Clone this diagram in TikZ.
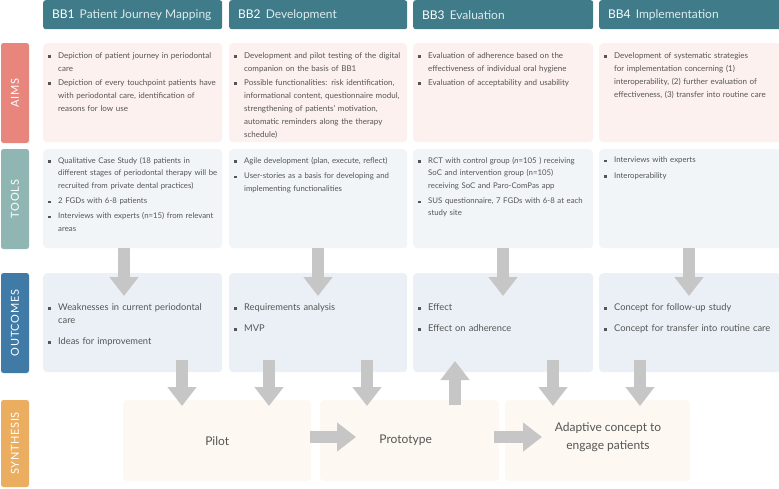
\documentclass[tikz,border=0pt]{standalone}
\usepackage{fontspec}
\setmainfont{Lato}
\usetikzlibrary{arrows.meta}
\definecolor{hdr}{HTML}{3F7B89}
\definecolor{hdrtxt}{HTML}{DCEBEE}
\definecolor{aimlbl}{HTML}{E8867D}
\definecolor{aimbg}{HTML}{FDF1EF}
\definecolor{toollbl}{HTML}{8FB6B2}
\definecolor{toolbg}{HTML}{F1F5F7}
\definecolor{outlbl}{HTML}{3F7BA6}
\definecolor{outbg}{HTML}{EAF0F6}
\definecolor{synlbl}{HTML}{EBAE60}
\definecolor{synbg}{HTML}{FDF8F2}
\definecolor{arw}{HTML}{C6C6C6}
\definecolor{txt}{HTML}{555555}
\newcommand\bmark{\makebox[10pt][l]{\raisebox{0.5pt}{\rule{2.4pt}{2.4pt}}}}
\newcommand\bfirst{\noindent\hangindent=10pt\hangafter=1\bmark}
\newcommand\bitem{\par\noindent\hangindent=10pt\hangafter=1\bmark}
\tikzset{
  hdrbox/.style={fill=hdr, rounded corners=2.5pt, anchor=north west, minimum height=29pt, inner sep=0pt},
  hdrlabel/.style={anchor=west, inner sep=0pt, text=hdrtxt, font=\fontsize{12}{14}\selectfont},
  cell/.style={rounded corners=4pt, anchor=north west, minimum height=99pt, inner sep=0pt},
  aimcell/.style={cell, fill=aimbg},
  toolcell/.style={cell, fill=toolbg},
  outcell/.style={cell, fill=outbg},
  syncell/.style={rounded corners=4pt, anchor=north west, minimum height=81pt, inner sep=0pt, fill=synbg, text=txt, font=\fontsize{12}{18}\selectfont},
  rowlbl/.style={rotate=90, rounded corners=2.5pt, minimum height=28pt, inner sep=0pt, text=white, font=\fontsize{11}{13}\selectfont\addfontfeature{LetterSpace=6}},
  smalltxt/.style={anchor=north west, inner sep=0pt, text=txt, text width=190pt, font=\fontsize{8}{13}\selectfont},
  aimtxt/.style={smalltxt, execute at begin node={\raggedright\setlength{\parskip}{1pt}}},
  tooltxt/.style={smalltxt, font=\fontsize{7.8}{12.4}\selectfont, execute at begin node={\raggedright\setlength{\parskip}{3pt}}},
  outtxt/.style={anchor=north west, inner sep=0pt, text=txt, text width=190pt, font=\fontsize{9.3}{13}\selectfont, execute at begin node={\raggedright\setlength{\parskip}{8pt}}},
  bigarrow/.style={draw=arw, line width=12pt, -{Triangle[length=19pt 0 0, width=28pt 0 0]}}
}
\begin{document}
\begin{tikzpicture}[x=1pt,y=-1pt]
\useasboundingbox[fill=white] (0,0) rectangle (779,488);
% headers
\node[hdrbox, minimum width=179pt] (h1) at (43,0) {};
\node[hdrbox, minimum width=178pt] (h2) at (229,0) {};
\node[hdrbox, minimum width=180pt] (h3) at (413,0) {};
\node[hdrbox, minimum width=182pt] (h4) at (599,0) {};
\node[hdrlabel] (h1t) at ([xshift=9pt]h1.west) {\textcolor{white}{BB1}\, Patient Journey Mapping};
\node[hdrlabel] (h2t) at ([xshift=9pt]h2.west) {\textcolor{white}{BB2}\, Development};
\node[hdrlabel] (h3t) at ([xshift=9pt]h3.west) {\textcolor{white}{BB3}\, Evaluation};
\node[hdrlabel] (h4t) at ([xshift=9pt]h4.west) {\textcolor{white}{BB4}\, Implementation};
% row labels
\node[rowlbl, fill=aimlbl, minimum width=100pt] (laims) at (15,93) {AIMS};
\node[rowlbl, fill=toollbl, minimum width=100pt] (ltools) at (15,199) {TOOLS};
\node[rowlbl, fill=outlbl, minimum width=100pt] (louts) at (15,323) {OUTCOMES};
\node[rowlbl, fill=synlbl, minimum width=87pt] (lsyn) at (15,443.5) {SYNTHESIS};
% aims
\node[aimcell, minimum width=179pt] (a1) at (43,43) {};
\node[aimcell, minimum width=178pt] (a2) at (229,43) {};
\node[aimcell, minimum width=180pt] (a3) at (413,43) {};
\node[aimcell, minimum width=182pt] (a4) at (599,43) {};
\node[aimtxt] (a1t) at ([xshift=5pt,yshift=-9pt]a1.north west) {\bfirst Depiction of patient journey in periodontal\newline care\bitem Depiction of every touchpoint patients have\newline with periodontal care, identification of\newline reasons for low use\par};
\node[aimtxt] (a2t) at ([xshift=5pt,yshift=-9pt]a2.north west) {\bfirst Development and pilot testing of the digital\newline companion on the basis of BB1\bitem Possible functionalities: risk identification,\newline informational content, questionnaire modul,\newline strengthening of patients' motivation,\newline automatic reminders along the therapy\newline schedule)\par};
\node[aimtxt] (a3t) at ([xshift=5pt,yshift=-9pt]a3.north west) {\bfirst Evaluation of adherence based on the\newline effectiveness of individual oral hygiene\bitem Evaluation of acceptability and usability\par};
\node[aimtxt] (a4t) at ([xshift=5pt,yshift=-9pt]a4.north west) {\bfirst Development of systematic strategies\newline for implementation concerning (1)\newline interoperability, (2) further evaluation of\newline effectiveness, (3) transfer into routine care\par};
% tools
\node[toolcell, minimum width=179pt] (t1) at (43,149) {};
\node[toolcell, minimum width=178pt] (t2) at (229,149) {};
\node[toolcell, minimum width=180pt] (t3) at (413,149) {};
\node[toolcell, minimum width=182pt] (t4) at (599,149) {};
\node[tooltxt] (t1t) at ([xshift=5pt,yshift=-8pt]t1.north west) {\bfirst Qualitative Case Study (18 patients in\newline different stages of periodontal therapy will be\newline recruited from private dental practices)\bitem 2 FGDs with 6-8 patients\bitem Interviews with experts (n=15) from relevant\newline areas\par};
\node[tooltxt] (t2t) at ([xshift=5pt,yshift=-8pt]t2.north west) {\bfirst Agile development (plan, execute, reflect)\bitem User-stories as a basis for developing and\newline implementing functionalities\par};
\node[tooltxt] (t3t) at ([xshift=5pt,yshift=-8pt]t3.north west) {\bfirst RCT with control group (\emph{n}=105 ) receiving\newline SoC and intervention group (n=105)\newline receiving SoC and Paro-ComPas app\bitem SUS questionnaire, 7 FGDs with 6-8 at each\newline study site\par};
\node[tooltxt] (t4t) at ([xshift=5pt,yshift=-8pt]t4.north west) {\bfirst Interviews with experts\bitem Interoperability\par};
% outcomes
\node[outcell, minimum width=179pt] (o1) at (43,273) {};
\node[outcell, minimum width=178pt] (o2) at (229,273) {};
\node[outcell, minimum width=180pt] (o3) at (413,273) {};
\node[outcell, minimum width=182pt] (o4) at (599,273) {};
\node[outtxt] (o1t) at ([xshift=5pt,yshift=-30pt]o1.north west) {\bfirst Weaknesses in current periodontal\newline care\bitem Ideas for improvement\par};
\node[outtxt] (o2t) at ([xshift=5pt,yshift=-30pt]o2.north west) {\bfirst Requirements analysis\bitem MVP\par};
\node[outtxt] (o3t) at ([xshift=5pt,yshift=-30pt]o3.north west) {\bfirst Effect\bitem Effect on adherence\par};
\node[outtxt] (o4t) at ([xshift=5pt,yshift=-30pt]o4.north west) {\bfirst Concept for follow-up study\bitem Concept for transfer into routine care\par};
% synthesis
\node[syncell, minimum width=188pt] (pilot) at (123,400) {Pilot};
\node[syncell, minimum width=179pt] (proto) at (320,400) {\hspace*{-8pt}Prototype};
\node[syncell, minimum width=185pt] (adapt) at (505,400) {};
\node[inner sep=0pt, text=txt, align=center, font=\fontsize{12}{18}\selectfont] (adaptt) at (608,437) {Adaptive concept to\\engage patients};
% arrow coordinates
\coordinate (s1) at (124,248); \coordinate (e1) at (124,296);
\coordinate (s2) at (318,248); \coordinate (e2) at (318,296);
\coordinate (s3) at (503,248); \coordinate (e3) at (503,296);
\coordinate (s4) at (689,248); \coordinate (e4) at (689,296);
\coordinate (d1s) at (182,360); \coordinate (d1e) at (182,406);
\coordinate (d2s) at (269,360); \coordinate (d2e) at (269,406);
\coordinate (d3s) at (367,360); \coordinate (d3e) at (367,406);
\coordinate (d4s) at (553,360); \coordinate (d4e) at (553,406);
\coordinate (d5s) at (640,360); \coordinate (d5e) at (640,406);
\coordinate (us) at (455,405); \coordinate (ue) at (455,361);
\coordinate (r1s) at (310,437); \coordinate (r1e) at (356,437);
\coordinate (r2s) at (494,437); \coordinate (r2e) at (542,437);
\draw[bigarrow] (s1) -- (e1);
\draw[bigarrow] (s2) -- (e2);
\draw[bigarrow] (s3) -- (e3);
\draw[bigarrow] (s4) -- (e4);
\draw[bigarrow] (d1s) -- (d1e);
\draw[bigarrow] (d2s) -- (d2e);
\draw[bigarrow] (d3s) -- (d3e);
\draw[bigarrow] (d4s) -- (d4e);
\draw[bigarrow] (d5s) -- (d5e);
\draw[bigarrow] (us) -- (ue);
\draw[bigarrow] (r1s) -- (r1e);
\draw[bigarrow] (r2s) -- (r2e);
\end{tikzpicture}
\end{document}
